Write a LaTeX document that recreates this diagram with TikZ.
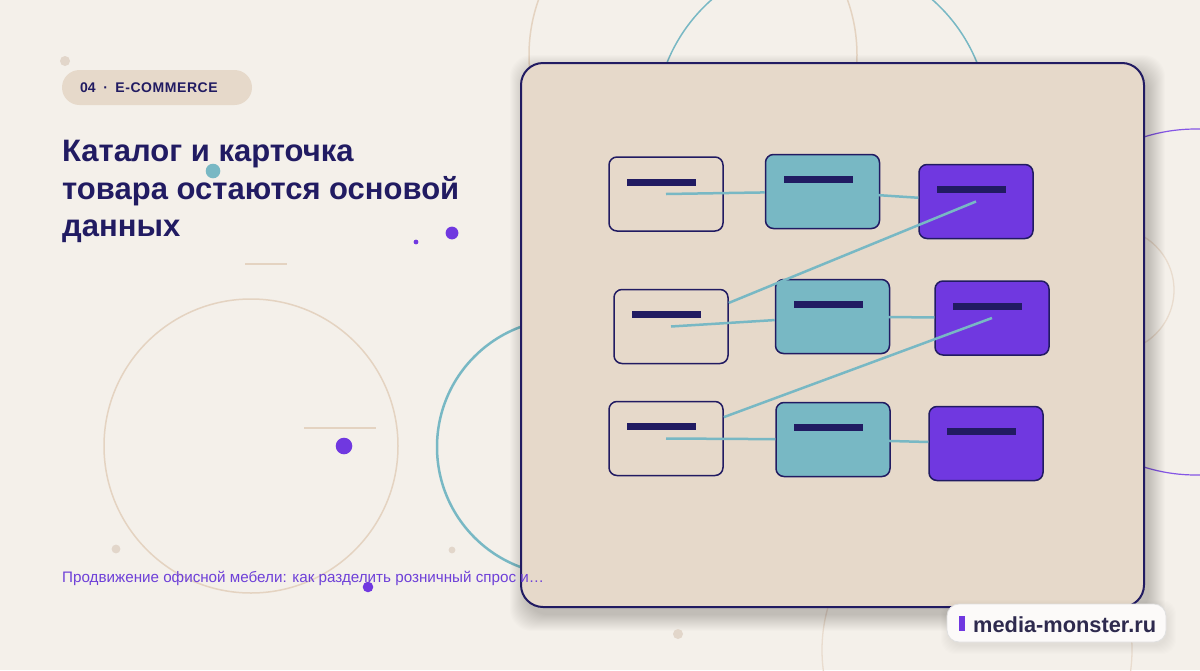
\documentclass[tikz,border=0pt]{standalone}
\usepackage{fontspec}
\setmainfont{Liberation Sans}
\definecolor{bg}{HTML}{F4F0EA}
\definecolor{panel}{HTML}{E6D9CA}
\definecolor{navy}{HTML}{211B62}
\definecolor{tealc}{HTML}{78B8C4}
\definecolor{purp}{HTML}{7038E0}
\definecolor{beige}{HTML}{E4D3C1}
\definecolor{beigedot}{HTML}{E2D6CA}
\definecolor{badgetext}{HTML}{2E2A4E}
\definecolor{subc}{HTML}{6E40D8}
\tikzset{
  card/.style={draw=navy, line width=1.5pt, rounded corners=8pt, minimum width=114pt, minimum height=74pt, inner sep=0pt,
    path picture={\fill[navy, sharp corners] ([xshift=18pt,yshift=-21.5pt]path picture bounding box.north west) rectangle ++(69pt,-7pt);}},
  cardA/.style={card},
  cardB/.style={card, fill=tealc},
  cardC/.style={card, fill=purp},
  link/.style={tealc, line width=2.5pt},
  deco/.style={beige, line width=1.5pt},
  titlefont/.style={anchor=base west, inner sep=0pt, text=navy, font=\bfseries\fontsize{31}{36}\selectfont},
}
\begin{document}
\begin{tikzpicture}[x=1pt,y=-1pt]
\useasboundingbox (0,0) rectangle (1200,670);
\fill[bg] (0,0) rectangle (1200,670);
\begin{scope}
\clip (0,0) rectangle (1200,670);
% background circles
\draw[deco] (693,55) circle[radius=164];
\draw[tealc, line width=1.5pt] (822,125) circle[radius=167];
\draw[purp!85, line width=1.2pt] (1196,302) circle[radius=173];
\draw[beige!80, line width=1.3pt] (1112,290) circle[radius=62];
\draw[deco] (251,446) circle[radius=147];
\draw[tealc, line width=2.5pt] (565,447) circle[radius=128];
\draw[beige!80, line width=1.3pt] (977,650) circle[radius=155];
% panel shadow
\foreach \i in {0,...,16} {
  \fill[black, opacity=0.011, rounded corners=22pt] (521+5-\i,63+8-\i) rectangle (1144+5+\i,607+8+\i);
}
\end{scope}
% panel
\draw[navy, fill=panel, line width=2pt, rounded corners=22pt] (521,63) rectangle (1144,607);
% cards
\node[cardA] (A1) at (666,194) {};
\node[cardB] (B1) at (822.5,191.5) {};
\node[cardC] (C1) at (976,201.5) {};
\node[cardA] (A2) at (671,326.5) {};
\node[cardB] (B2) at (832.5,316.5) {};
\node[cardC] (C2) at (992,318) {};
\node[cardA] (A3) at (666,438.5) {};
\node[cardB] (B3) at (833,439.5) {};
\node[cardC] (C3) at (986,443.5) {};
% links
\draw[link] (A1.center) -- (B1);
\draw[link] (B1.center) -- (C1);
\draw[link] (C1.center) -- (A2);
\draw[link] (A2.center) -- (B2);
\draw[link] (B2.center) -- (C2);
\draw[link] (C2.center) -- (A3);
\draw[link] (A3.center) -- (B3);
\draw[link] (B3.center) -- (C3);
% tag pill
\fill[panel, rounded corners=17.5pt] (62,70) rectangle (252,105);
\node[anchor=base west, inner sep=0pt, text=navy, font=\bfseries\fontsize{14}{16}\selectfont] (tag) at (80,92) {04\hspace{7.5pt}·\hspace{7.5pt}\addfontfeature{LetterSpace=4}E-COMMERCE};
% title
\node[titlefont] (t1) at (62,161.7) {Каталог и карточка};
\node[titlefont] (t2) at (62,199) {товара остаются основой};
\node[titlefont] (t3) at (62,236.5) {данных};
% subtitle
\node[anchor=base west, inner sep=0pt, text=subc, font=\fontsize{15.2}{17}\selectfont] (sub) at (62,582.5) {Продвижение офисной мебели: как разделить розничный спрос и…};
% decorative lines and dots
\draw[deco, line width=2pt] (245,264) -- (287,264);
\draw[deco, line width=2pt] (304,428) -- (376,428);
\fill[beigedot] (65,61) circle[radius=5];
\fill[tealc] (213,171) circle[radius=7.3];
\fill[purp] (416,242) circle[radius=2.4];
\fill[purp] (452,233) circle[radius=6.4];
\fill[purp] (344,446) circle[radius=8.3];
\fill[beigedot] (116,549) circle[radius=4.4];
\fill[beigedot] (452,550) circle[radius=3.4];
\fill[purp] (368,587) circle[radius=5.3];
\fill[beigedot] (678,634) circle[radius=5];
% badge
\foreach \i in {0,...,8} {
  \fill[black, opacity=0.008, rounded corners=14pt] (947+2-\i,604+4-\i) rectangle (1166+2+\i,642+4+\i);
}
\draw[fill=white!70!bg, draw=black!12, line width=0.8pt, rounded corners=12pt] (947,604) rectangle (1166,642);
\fill[purp] (959.3,616) rectangle (964.7,631);
\node[anchor=base west, inner sep=0pt, text=badgetext, font=\bfseries\fontsize{21.8}{24}\selectfont] (site) at (973,632.5) {media-monster.ru};
\end{tikzpicture}
\end{document}
